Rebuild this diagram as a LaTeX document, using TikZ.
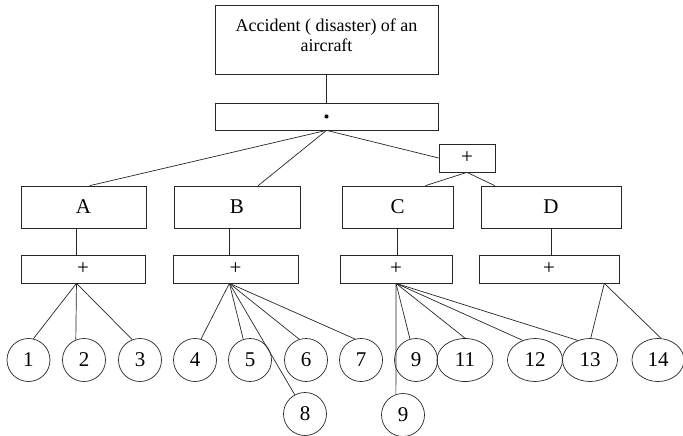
\documentclass[tikz,border=0pt]{standalone}
\usepackage{fontspec}
\setmainfont{Liberation Serif}
\usetikzlibrary{calc,shapes.geometric}
\begin{document}
\begin{tikzpicture}[x=1pt,y=-1pt,
  box/.style={draw=black!85, rectangle, inner sep=0pt, line width=0.7pt, font=\fontsize{21}{24}\selectfont},
  disc/.style={draw=black!85, circle, minimum size=43pt, inner sep=0pt, line width=0.7pt, font=\fontsize{21}{24}\selectfont},
  oval/.style={draw=black!85, ellipse, minimum width=55pt, minimum height=43pt, inner sep=0pt, line width=0.7pt, font=\fontsize{21}{24}\selectfont},
  wire/.style={draw=black!85, line width=0.7pt}]
\useasboundingbox (0,0) rectangle (683,436);

% top event and AND gate
\node[box, minimum width=223pt, minimum height=69pt] (top) at (326.5,39.5) {};
\node[font=\fontsize{18}{20}\selectfont, align=center, inner sep=0pt] (toptext) at (326.5,35) {Accident ( disaster) of an\\aircraft};
\node[box, minimum width=223pt, minimum height=27pt] (dot) at (326.5,116.5) {\raisebox{-2pt}{\fontsize{34}{34}\selectfont .}};
\node[box, minimum width=56pt, minimum height=28pt] (or0) at (467,158) {\raisebox{-3pt}{+}};

% intermediate events
\node[box, minimum width=125pt, minimum height=42pt] (A) at (83.5,207) {A};
\node[box, minimum width=126pt, minimum height=42pt] (B) at (237,207) {B};
\node[box, minimum width=111pt, minimum height=42pt] (C) at (397.5,207) {C};
\node[box, minimum width=140pt, minimum height=42pt] (D) at (551,207) {D};

% OR gates
\node[box, minimum width=124pt, minimum height=28pt] (Ap) at (83,269) {\raisebox{-3pt}{+}};
\node[box, minimum width=125pt, minimum height=28pt] (Bp) at (235.5,269) {\raisebox{-3pt}{+}};
\node[box, minimum width=112pt, minimum height=28pt] (Cp) at (396,269) {\raisebox{-3pt}{+}};
\node[box, minimum width=140pt, minimum height=28pt] (Dp) at (549,269) {\raisebox{-3pt}{+}};

% basic events
\node[disc] (c1) at (28.5,360) {1};
\node[disc] (c2) at (84,360) {2};
\node[disc] (c3) at (140,360) {3};
\node[disc] (c4) at (195,360) {4};
\node[disc] (c5) at (250,360) {5};
\node[disc] (c6) at (306,360) {6};
\node[disc] (c7) at (361,360) {7};
\node[disc] (c8) at (305,414) {8};
\node[disc] (c9a) at (416,360) {9};
\node[disc] (c9b) at (403,415) {9};
\node[oval, minimum width=56pt] (e11) at (465,360) {11};
\node[oval] (e12) at (535,360) {12};
\node[oval] (e13) at (590,360) {13};
\node[oval, minimum width=52pt] (e14) at (658,360) {14};

% upper connections
\draw[wire] (top.south) -- (dot.north);
\coordinate (hub) at (dot.south);
\draw[wire] (hub) -- ($(A.north west)!0.55!(A.north east)$);
\draw[wire] (hub) -- ($(B.north west)!0.667!(B.north east)$);
\draw[wire] (hub) -- (or0.west);
\draw[wire] (or0.south) -- ($(C.north west)!0.75!(C.north east)$);
\draw[wire] (or0.south) -- ($(D.north west)!0.1!(D.north east)$);

% events to their gates
\coordinate (aS) at ($(A.south west)!0.444!(A.south east)$);
\coordinate (bS) at ($(B.south west)!0.44!(B.south east)$);
\draw[wire] (aS) -- (aS |- Ap.north);
\draw[wire] (bS) -- (bS |- Bp.north);
\draw[wire] (C.south) -- (C.south |- Cp.north);
\draw[wire] (D.south) -- (D.south |- Dp.north);

% gates to basic events
\coordinate (aF) at (aS |- Ap.south);
\coordinate (bF) at (bS |- Bp.south);
\coordinate (cF) at (Cp.south);
\coordinate (dF) at ($(Dp.south west)!0.893!(Dp.south east)$);
\draw[wire] (aF) -- (c1.77);
\draw[wire] (aF) -- (c2.112);
\draw[wire] (aF) -- (c3.111);
\draw[wire] (bF) -- (c4.74);
\draw[wire] (bF) -- (c5.108);
\draw[wire] (bF) -- (c6.108);
\draw[wire] (bF) -- (c7.106);
\draw[wire] (bF) -- (c8.118);
\draw[wire] (cF) -- (c9a.106);
\draw[wire] (cF) -- (e11.90);
\draw[wire] (cF) -- (e12.122);
\draw[wire] (cF) -- (e13.122);
\draw[wire] (cF) -- (c9b.109);
\draw[wire] (dF) -- (e13.88);
\draw[wire] (dF) -- (e14.82);
\end{tikzpicture}
\end{document}
